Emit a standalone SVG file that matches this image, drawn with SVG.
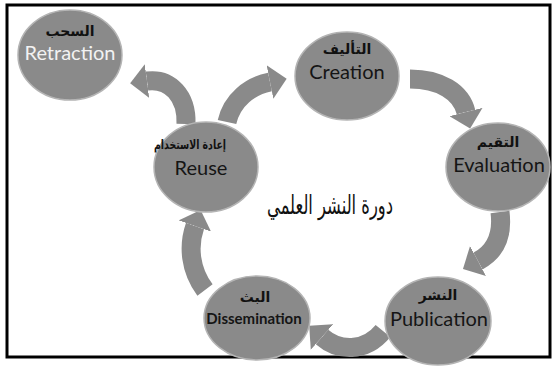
<svg xmlns="http://www.w3.org/2000/svg" width="554" height="368" viewBox="0 0 554 368">
  <style>
    .node { fill: #8a8a8a; stroke: #b4b4b4; stroke-width: 1.5; }
    .ar { font-family: "DejaVu Sans", sans-serif; font-weight: bold; fill: #111; text-anchor: middle; }
    .en { font-family: Lato, "Liberation Sans", sans-serif; fill: #151515; text-anchor: middle; }
    .light { fill: #f2f2f2; }
    .flow { fill: none; stroke: #8a8a8a; stroke-width: 19; marker-end: url(#head); }
    .title { font-family: "DejaVu Sans", sans-serif; fill: #111; text-anchor: middle; }
  </style>
  <defs>
    <marker id="head" markerUnits="userSpaceOnUse" markerWidth="20" markerHeight="34" refX="0" refY="17" orient="auto" viewBox="0 0 20 34">
      <path d="M0,0 L17,17 L0,34 z" fill="#8a8a8a"/>
    </marker>
  </defs>

  <rect x="7" y="5" width="543" height="352" fill="#fff" stroke="#000" stroke-width="3"/>

  <!-- connectors -->
  <g id="connectors">
    <path class="flow" d="M186 124 C187 96 170 78 147 81"/>
    <path class="flow" d="M227 122 C232 100 250 86 270 82"/>
    <path class="flow" d="M410 79 C440 79 461 92 466 112"/>
    <path class="flow" d="M500 212 C503 236 495 252 478 261"/>
    <path class="flow" d="M383 331 C365 353 338 351 322 337"/>
    <path class="flow" d="M205 290 C190 270 188 246 195 226"/>
  </g>

  <g id="retraction">
    <ellipse class="node" cx="70" cy="55" rx="52" ry="45"/>
    <text class="ar" x="70" y="36" font-size="14">السحب</text>
    <text class="en light" x="70" y="60" font-size="20">Retraction</text>
  </g>

  <g id="creation">
    <ellipse class="node" cx="347" cy="76" rx="52" ry="44"/>
    <text class="ar" x="347" y="54" font-size="14">التأليف</text>
    <text class="en" x="347" y="79" font-size="20">Creation</text>
  </g>

  <g id="reuse">
    <ellipse class="node" cx="206" cy="167" rx="52" ry="45"/>
    <text class="ar" x="190" y="149" font-size="13" textLength="72" lengthAdjust="spacingAndGlyphs">إعادة الاستخدام</text>
    <text class="en" x="201" y="175" font-size="20">Reuse</text>
  </g>

  <g id="evaluation">
    <ellipse class="node" cx="498" cy="167" rx="52" ry="44"/>
    <text class="ar" x="498" y="147" font-size="14">التقيم</text>
    <text class="en" x="499" y="172" font-size="20">Evaluation</text>
  </g>

  <g id="publication">
    <ellipse class="node" cx="438" cy="321" rx="53" ry="44"/>
    <text class="ar" x="438" y="300" font-size="14">النشر</text>
    <text class="en" x="439" y="326" font-size="20">Publication</text>
  </g>

  <g id="dissemination">
    <ellipse class="node" cx="257" cy="318" rx="53" ry="42"/>
    <text class="ar" x="255" y="302" font-size="14">البث</text>
    <text class="en" x="254" y="324" font-size="15" font-weight="bold">Dissemination</text>
  </g>

  <text class="title" x="330" y="214" font-size="26" textLength="126" lengthAdjust="spacingAndGlyphs">دورة النشر العلمي</text>
</svg>
